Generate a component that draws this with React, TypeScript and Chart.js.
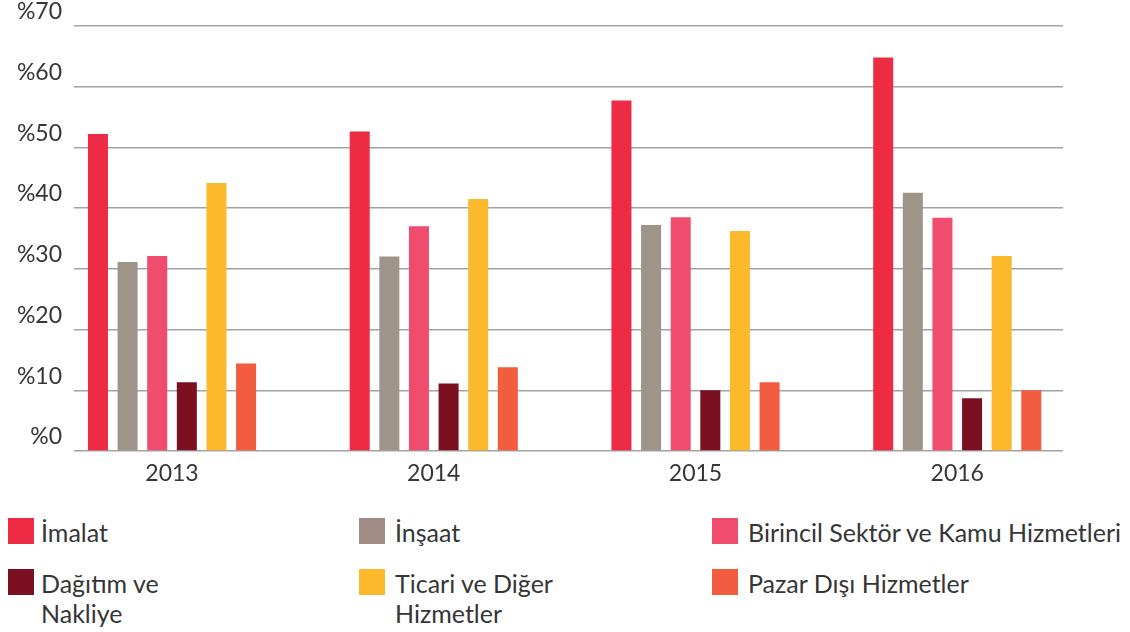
import React, { useEffect, useRef } from "react";
import { Chart, registerables } from "chart.js";

Chart.register(...registerables);

const years = ["2013", "2014", "2015", "2016"];
const seriesNames = [
  "İmalat",
  "İnşaat",
  "Birincil Sektör ve Kamu Hizmetleri",
  "Dağıtım ve\nNakliye",
  "Ticari ve Diğer\nHizmetler",
  "Pazar Dışı Hizmetler",
];
const seriesColors = ["#EE2B45", "#9E948A", "#F04D6E", "#7A1020", "#FDB92C", "#F25C3F"];
const legendColors = ["#EE2B45", "#A18B85", "#F04D6E", "#7A1020", "#FDB92C", "#F25C3F"];
const imalat = [52.2, 52.6, 57.7, 64.8];
const insaat = [31.1, 32.0, 37.2, 42.5];
const birincil = [32.1, 37.0, 38.5, 38.4];
const dagitim = [11.3, 11.1, 10.0, 8.7];
const ticari = [44.1, 41.5, 36.2, 32.1];
const pazar = [14.4, 13.8, 11.3, 10.0];
const seriesValues = [imalat, insaat, birincil, dagitim, ticari, pazar];
const yTicks = [0, 10, 20, 30, 40, 50, 60, 70];

const FONT = "Lato, 'Noto Sans', sans-serif";
const TEXT = "#363636";

const legendPos = [
  { sx: 8, tx: 41, y: 518 },
  { sx: 359, tx: 395, y: 518 },
  { sx: 712, tx: 748, y: 518 },
  { sx: 8, tx: 41, y: 569 },
  { sx: 359, tx: 395, y: 569 },
  { sx: 712, tx: 748, y: 569 },
];

export default function App() {
  const ref = useRef<HTMLCanvasElement | null>(null);

  useEffect(() => {
    document.body.style.margin = "0";
    const ctx = ref.current!;
    const chart = new Chart(ctx, {
      type: "bar",
      data: {
        datasets: seriesValues.map((vals, si) => ({
          label: seriesNames[si].replace("\n", " "),
          data: vals.map((v, i) => ({ x: i, y: v })),
          backgroundColor: seriesColors[si],
          borderWidth: 0,
          categoryPercentage: 0.679,
          barPercentage: 0.676,
        })),
      },
      options: {
        animation: false,
        responsive: false,
        maintainAspectRatio: false,
        layout: { padding: { top: 24, right: 67, left: 0, bottom: 0 } },
        plugins: { legend: { display: false }, tooltip: { enabled: false } },
        scales: {
          x: {
            type: "linear",
            offset: false,
            min: -0.3745,
            max: 3.404,
            grid: { display: false, offset: false },
            border: { display: false },
            afterBuildTicks: (scale: any) => {
              scale.ticks = years.map((_, i) => ({ value: i }));
            },
            afterFit: (scale: any) => {
              scale.height = 49;
            },
            ticks: {
              autoSkip: false,
              padding: 1,
              color: TEXT,
              font: { family: FONT, size: 23 },
              callback: (v: any) => years[Math.round(Number(v))] ?? "",
            },
          },
          y: {
            min: 0,
            max: 70,
            afterBuildTicks: (scale: any) => {
              scale.ticks = yTicks.map((v) => ({ value: v }));
            },
            afterFit: (scale: any) => {
              scale.width = 74;
            },
            grid: { color: "#a3a3a3", lineWidth: 1.5, drawTicks: false },
            border: { display: false },
            ticks: {
              padding: 12,
              labelOffset: -14,
              color: TEXT,
              font: { family: FONT, size: 23 },
              callback: (v: any) => "%" + v,
            },
          },
        },
      },
    });
    return () => chart.destroy();
  }, []);

  return (
    <div style={{ position: "relative", width: 1130, height: 632, fontFamily: FONT, color: TEXT }}>
      <div style={{ position: "absolute", left: 0, top: 0, width: 1130, height: 500 }}>
        <canvas ref={ref} width={1130} height={500} style={{ display: "block" }} />
      </div>
      {seriesNames.map((name, i) => (
        <React.Fragment key={i}>
          <div
            style={{
              position: "absolute",
              left: legendPos[i].sx,
              top: legendPos[i].y,
              width: 26,
              height: 26,
              background: legendColors[i],
            }}
          />
          <div
            style={{
              position: "absolute",
              left: legendPos[i].tx,
              top: legendPos[i].y - 1,
              fontSize: 25,
              lineHeight: "30px",
              whiteSpace: "pre",
            }}
          >
            {name}
          </div>
        </React.Fragment>
      ))}
    </div>
  );
}
